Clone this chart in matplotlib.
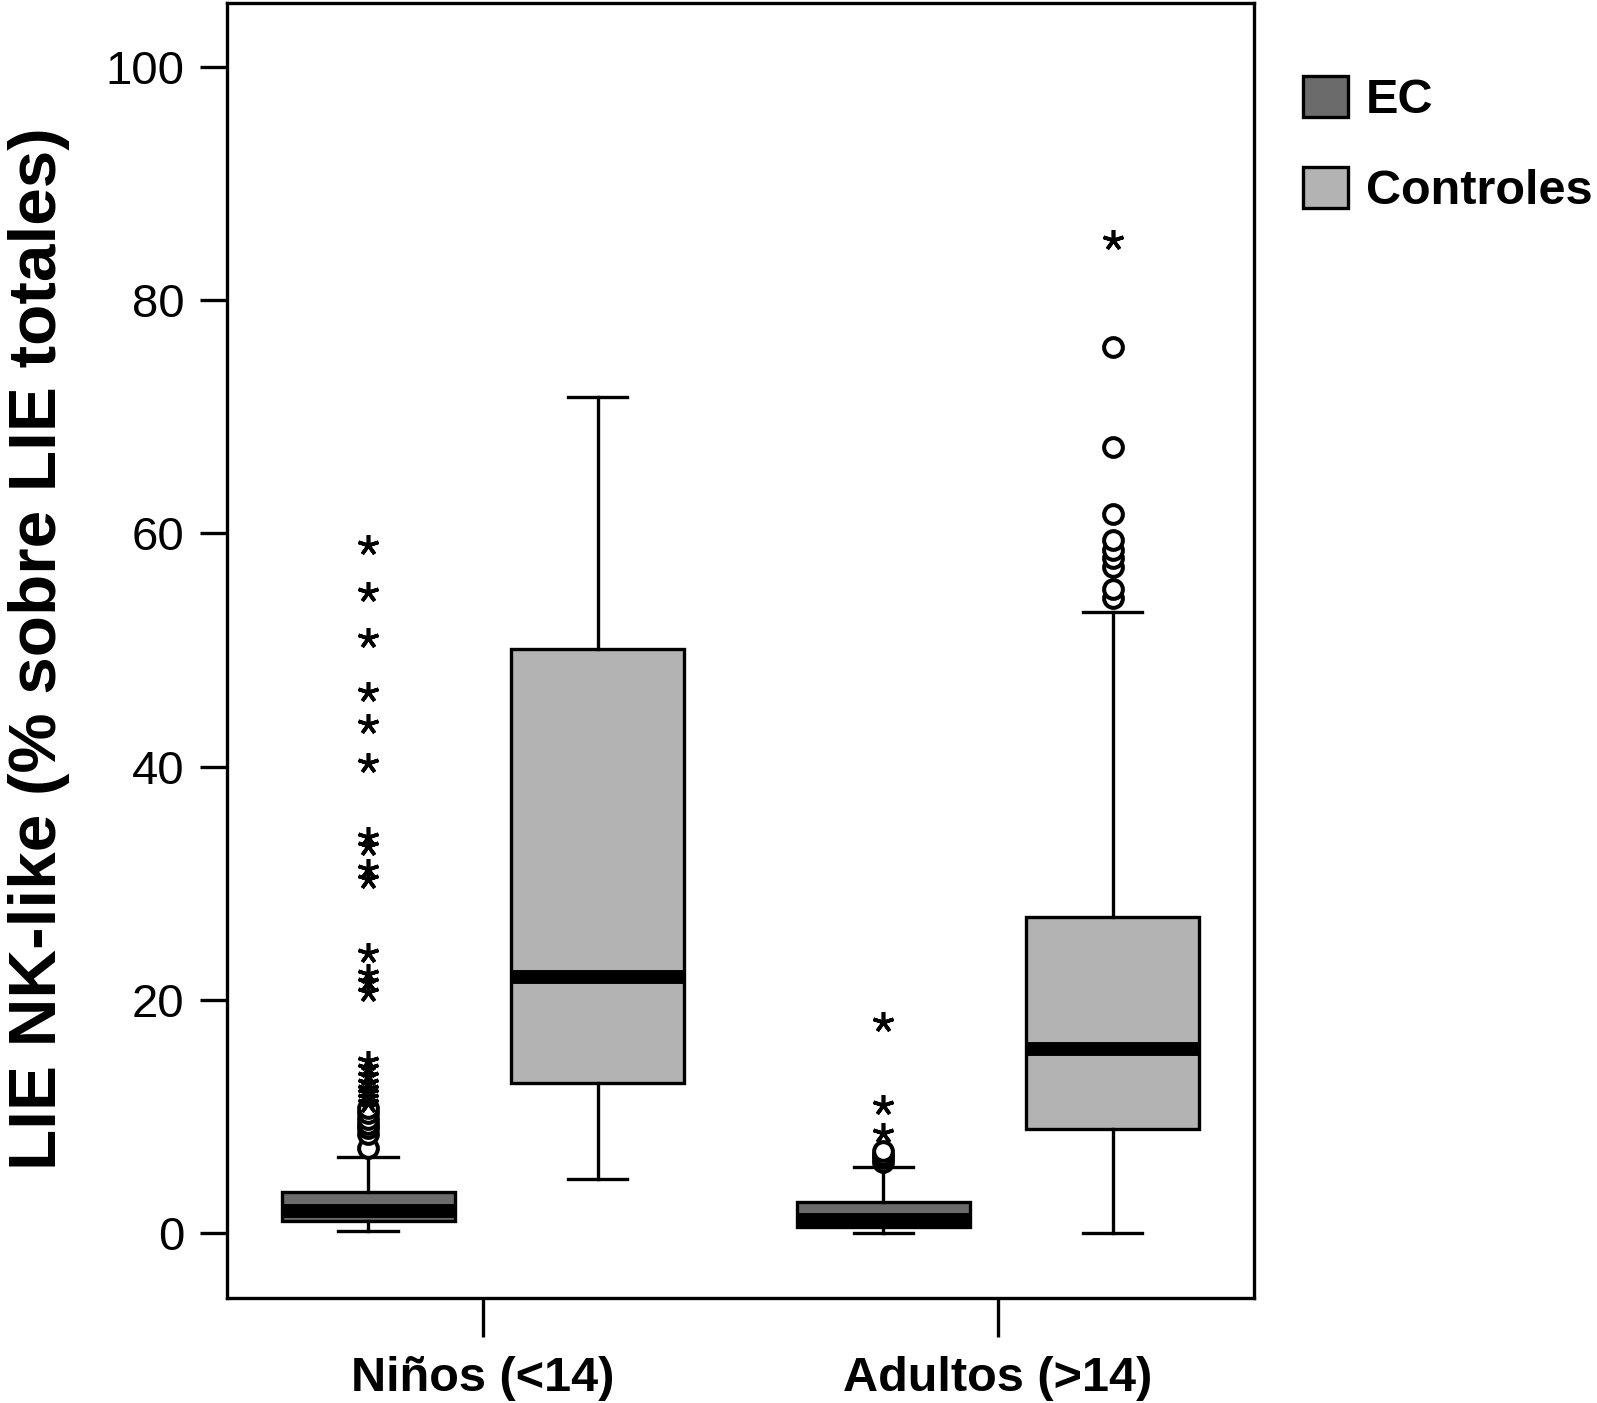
import matplotlib
matplotlib.use("Agg")
import matplotlib.pyplot as plt
from matplotlib.patches import Patch

plt.rcParams["font.family"] = ["Liberation Sans", "DejaVu Sans"]

# Groups and series
groups = ["Niños (<14)", "Adultos (>14)"]
series = ["EC", "Controles"]
colors = ["#6b6b6b", "#b3b3b3"]

# Box statistics (Niños, Adultos)
ec_whislo = [0.2, 0.05]
ec_q1 = [1.0, 0.5]
ec_med = [1.9, 1.15]
ec_q3 = [3.5, 2.7]
ec_whishi = [6.5, 5.7]

ctrl_whislo = [4.6, 0.0]
ctrl_q1 = [12.9, 8.9]
ctrl_med = [22.0, 15.8]
ctrl_q3 = [50.1, 27.1]
ctrl_whishi = [71.7, 53.3]

# Outliers: circles (o) and extremes (*)
ec_ninos_circ = [7.3, 8.5, 9.0, 9.4, 9.8, 10.3, 10.7]
ec_ninos_star = [11.2, 11.6, 12.0, 12.4, 12.9, 13.5, 14.2, 14.8, 20.7, 21.5, 22.2, 24.0,
                 30.4, 31.2, 33.2, 34.0, 40.3, 43.7, 46.4, 51.0, 55.0, 59.0]
ec_adultos_circ = [6.1, 6.4, 6.7, 7.0]
ec_adultos_star = [8.6, 11.0, 18.1]
ctrl_ninos_circ = []
ctrl_ninos_star = []
ctrl_adultos_circ = [54.5, 55.2, 57.1, 57.9, 58.6, 59.4, 61.7, 67.4, 76.0]
ctrl_adultos_star = [85.2]

yticks = [0, 20, 40, 60, 80, 100]

fig = plt.figure(figsize=(15.97, 14.03), dpi=100)
ax = fig.add_axes([0.1421, 0.0748, 0.6431, 0.9231])

offset = 0.223
width = 0.336
lw = 2.4

def stats(whislo, q1, med, q3, whishi):
    return [dict(whislo=a, q1=b, med=c, q3=d, whishi=e, fliers=[])
            for a, b, c, d, e in zip(whislo, q1, med, q3, whishi)]

all_stats = [stats(ec_whislo, ec_q1, ec_med, ec_q3, ec_whishi),
             stats(ctrl_whislo, ctrl_q1, ctrl_med, ctrl_q3, ctrl_whishi)]
circ = [[ec_ninos_circ, ec_adultos_circ], [ctrl_ninos_circ, ctrl_adultos_circ]]
star = [[ec_ninos_star, ec_adultos_star], [ctrl_ninos_star, ctrl_adultos_star]]

for i, (st, col) in enumerate(zip(all_stats, colors)):
    pos = [g + 1 + (offset if i else -offset) for g in range(len(groups))]
    ax.bxp(st, positions=pos, widths=width, capwidths=0.115, patch_artist=True,
           showfliers=False,
           boxprops=dict(facecolor=col, edgecolor="black", linewidth=lw),
           whiskerprops=dict(color="black", linewidth=lw),
           capprops=dict(color="black", linewidth=lw),
           medianprops=dict(color="black", linewidth=10, solid_capstyle="butt"))
    for j, p in enumerate(pos):
        c = circ[i][j]
        s = star[i][j]
        if c:
            ax.plot([p] * len(c), c, linestyle="none", marker="o", markersize=13.5,
                    markerfacecolor="white", markeredgecolor="black", markeredgewidth=2.9)
        if s:
            ax.plot([p] * len(s), s, linestyle="none", marker=(5, 2, 0), markersize=15,
                    color="black", markeredgewidth=2.6)

ax.set_xlim(0.503, 2.497)
ax.set_ylim(-5.57, 105.5)
ax.set_xticks([1, 2])
ax.set_xticklabels(groups, fontsize=35, fontweight="bold")
ax.set_yticks(yticks)
ax.set_yticklabels([str(t) for t in yticks], fontsize=34)
ax.tick_params(axis="y", length=19.4, width=2.4, pad=11)
ax.tick_params(axis="x", length=28, width=2.4, pad=14)
for sp in ax.spines.values():
    sp.set_linewidth(2.4)

ax.set_ylabel("LIE NK-like (% sobre LIE totales)", fontsize=48.6, fontweight="bold", va="center")
ax.yaxis.set_label_coords(-0.183, 0.5015)

handles = [Patch(facecolor=c, edgecolor="black", linewidth=lw) for c in colors]
fig.legend(handles, series, loc="upper left", bbox_to_anchor=(0.8159, 0.9458),
           frameon=False, borderpad=0, borderaxespad=0, handlelength=0.92, handleheight=0.92,
           handletextpad=0.37, labelspacing=0.9, prop=dict(size=35, weight="bold"))

fig.savefig("out.png", dpi=100)
